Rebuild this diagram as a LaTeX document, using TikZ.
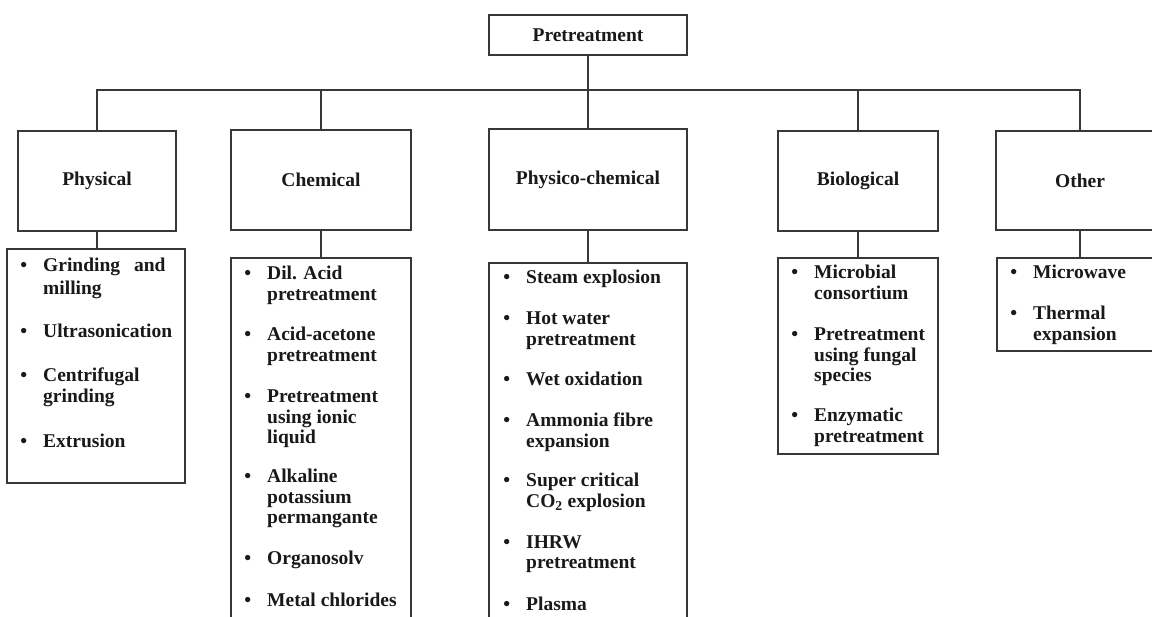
\documentclass[tikz,border=0pt]{standalone}
\usepackage{fontspec}
\setmainfont{Liberation Serif}
\tikzset{
  ln/.style={draw=black!78, line width=1.2pt},
  box/.style={ln, rectangle, inner sep=0pt, outer sep=0pt},
  cat/.style={box, font=\bfseries\fontsize{19.5}{20.5}\selectfont, text=black!90},
  itm/.style={anchor=base west, inner sep=0pt, font=\bfseries\fontsize{19.5}{20.5}\selectfont, text=black!90},
}
\newcommand{\bul}{\llap{\textbullet\hspace{16pt}}}
\newcommand{\ml}[1]{\begin{tabular}[t]{@{}l@{}}#1\end{tabular}}
\renewcommand{\arraystretch}{1}
\begin{document}
\begin{tikzpicture}[x=1pt,y=-1pt]
\useasboundingbox (0,0) rectangle (1152,617);
\fill[white] (0,0) rectangle (1152,617);
\clip (0,0) rectangle (1152,617);
% category boxes
\node[cat, minimum width=198pt, minimum height=40pt] (pre) at (588,35) {Pretreatment};
\node[cat, minimum width=158pt, minimum height=100pt] (phys) at (97,181) {Physical};
\node[cat, minimum width=180pt, minimum height=100pt] (chem) at (321,180) {Chemical};
\node[cat, minimum width=198pt, minimum height=101pt] (phc) at (588,179.5) {Physico-chemical};
\node[cat, minimum width=160pt, minimum height=100pt] (bio) at (858,181) {Biological};
\node[cat, minimum width=168pt, minimum height=99pt] (oth) at (1080,180.5) {Other};
% list boxes
\node[box, minimum width=178pt, minimum height=234pt] (physL) at (96,366) {};
\node[box, minimum width=180pt, minimum height=382pt] (chemL) at (321,449) {};
\node[box, minimum width=198pt, minimum height=377pt] (phcL) at (588,451.5) {};
\node[box, minimum width=160pt, minimum height=196pt] (bioL) at (858,356) {};
\node[box, minimum width=167pt, minimum height=93pt] (othL) at (1080.5,304.5) {};
% connectors
\coordinate (barmid) at (588,90);
\draw[ln] (pre.south) -- (phc.north);
\draw[ln] (phys.north) |- (barmid) -| (oth.north);
\draw[ln] (chem.north) -- (chem.north |- barmid);
\draw[ln] (bio.north) -- (bio.north |- barmid);
\draw[ln] (phys.south) -- (phys.south |- physL.north);
\draw[ln] (chem.south) -- (chem.south |- chemL.north);
\draw[ln] (phc.south) -- (phc.south |- phcL.north);
\draw[ln] (bio.south) -- (bio.south |- bioL.north);
\draw[ln] (oth.south) -- (oth.south |- othL.north);
% physical items
\node[itm] (p1) at (43,272) {\bul\ml{Grinding\hspace{9pt} and\\[2pt]milling}};
\node[itm] (p2) at (43,338) {\bul Ultrasonication};
\node[itm] (p3) at (43,382) {\bul\ml{Centrifugal\\grinding}};
\node[itm] (p4) at (43,448) {\bul Extrusion};
% chemical items
\node[itm] (c1) at (267,280) {\bul\ml{Dil. Acid\\pretreatment}};
\node[itm] (c2) at (267,341) {\bul\ml{Acid-acetone\\pretreatment}};
\node[itm] (c3) at (267,403) {\bul\ml{Pretreatment\\using ionic\\liquid}};
\node[itm] (c4) at (267,483) {\bul\ml{Alkaline\\potassium\\permangante}};
\node[itm] (c5) at (267,565) {\bul Organosolv};
\node[itm] (c6) at (267,606) {\bul Metal chlorides};
% physico-chemical items
\node[itm] (f1) at (526,284) {\bul Steam explosion};
\node[itm] (f2) at (526,325) {\bul\ml{Hot water\\pretreatment}};
\node[itm] (f3) at (526,386) {\bul Wet oxidation};
\node[itm] (f4) at (526,427) {\bul\ml{Ammonia fibre\\expansion}};
\node[itm] (f5) at (526,487) {\bul\ml{Super critical\\CO\textsubscript{2} explosion}};
\node[itm] (f6) at (526,548) {\bul\ml{IHRW\\pretreatment}};
\node[itm] (f7) at (526,610) {\bul Plasma};
% biological items
\node[itm] (b1) at (814,279) {\bul\ml{Microbial\\consortium}};
\node[itm] (b2) at (814,341) {\bul\ml{Pretreatment\\using fungal\\species}};
\node[itm] (b3) at (814,422) {\bul\ml{Enzymatic\\pretreatment}};
% other items
\node[itm] (o1) at (1033,279) {\bul Microwave};
\node[itm] (o2) at (1033,320) {\bul\ml{Thermal\\expansion}};
\end{tikzpicture}
\end{document}
